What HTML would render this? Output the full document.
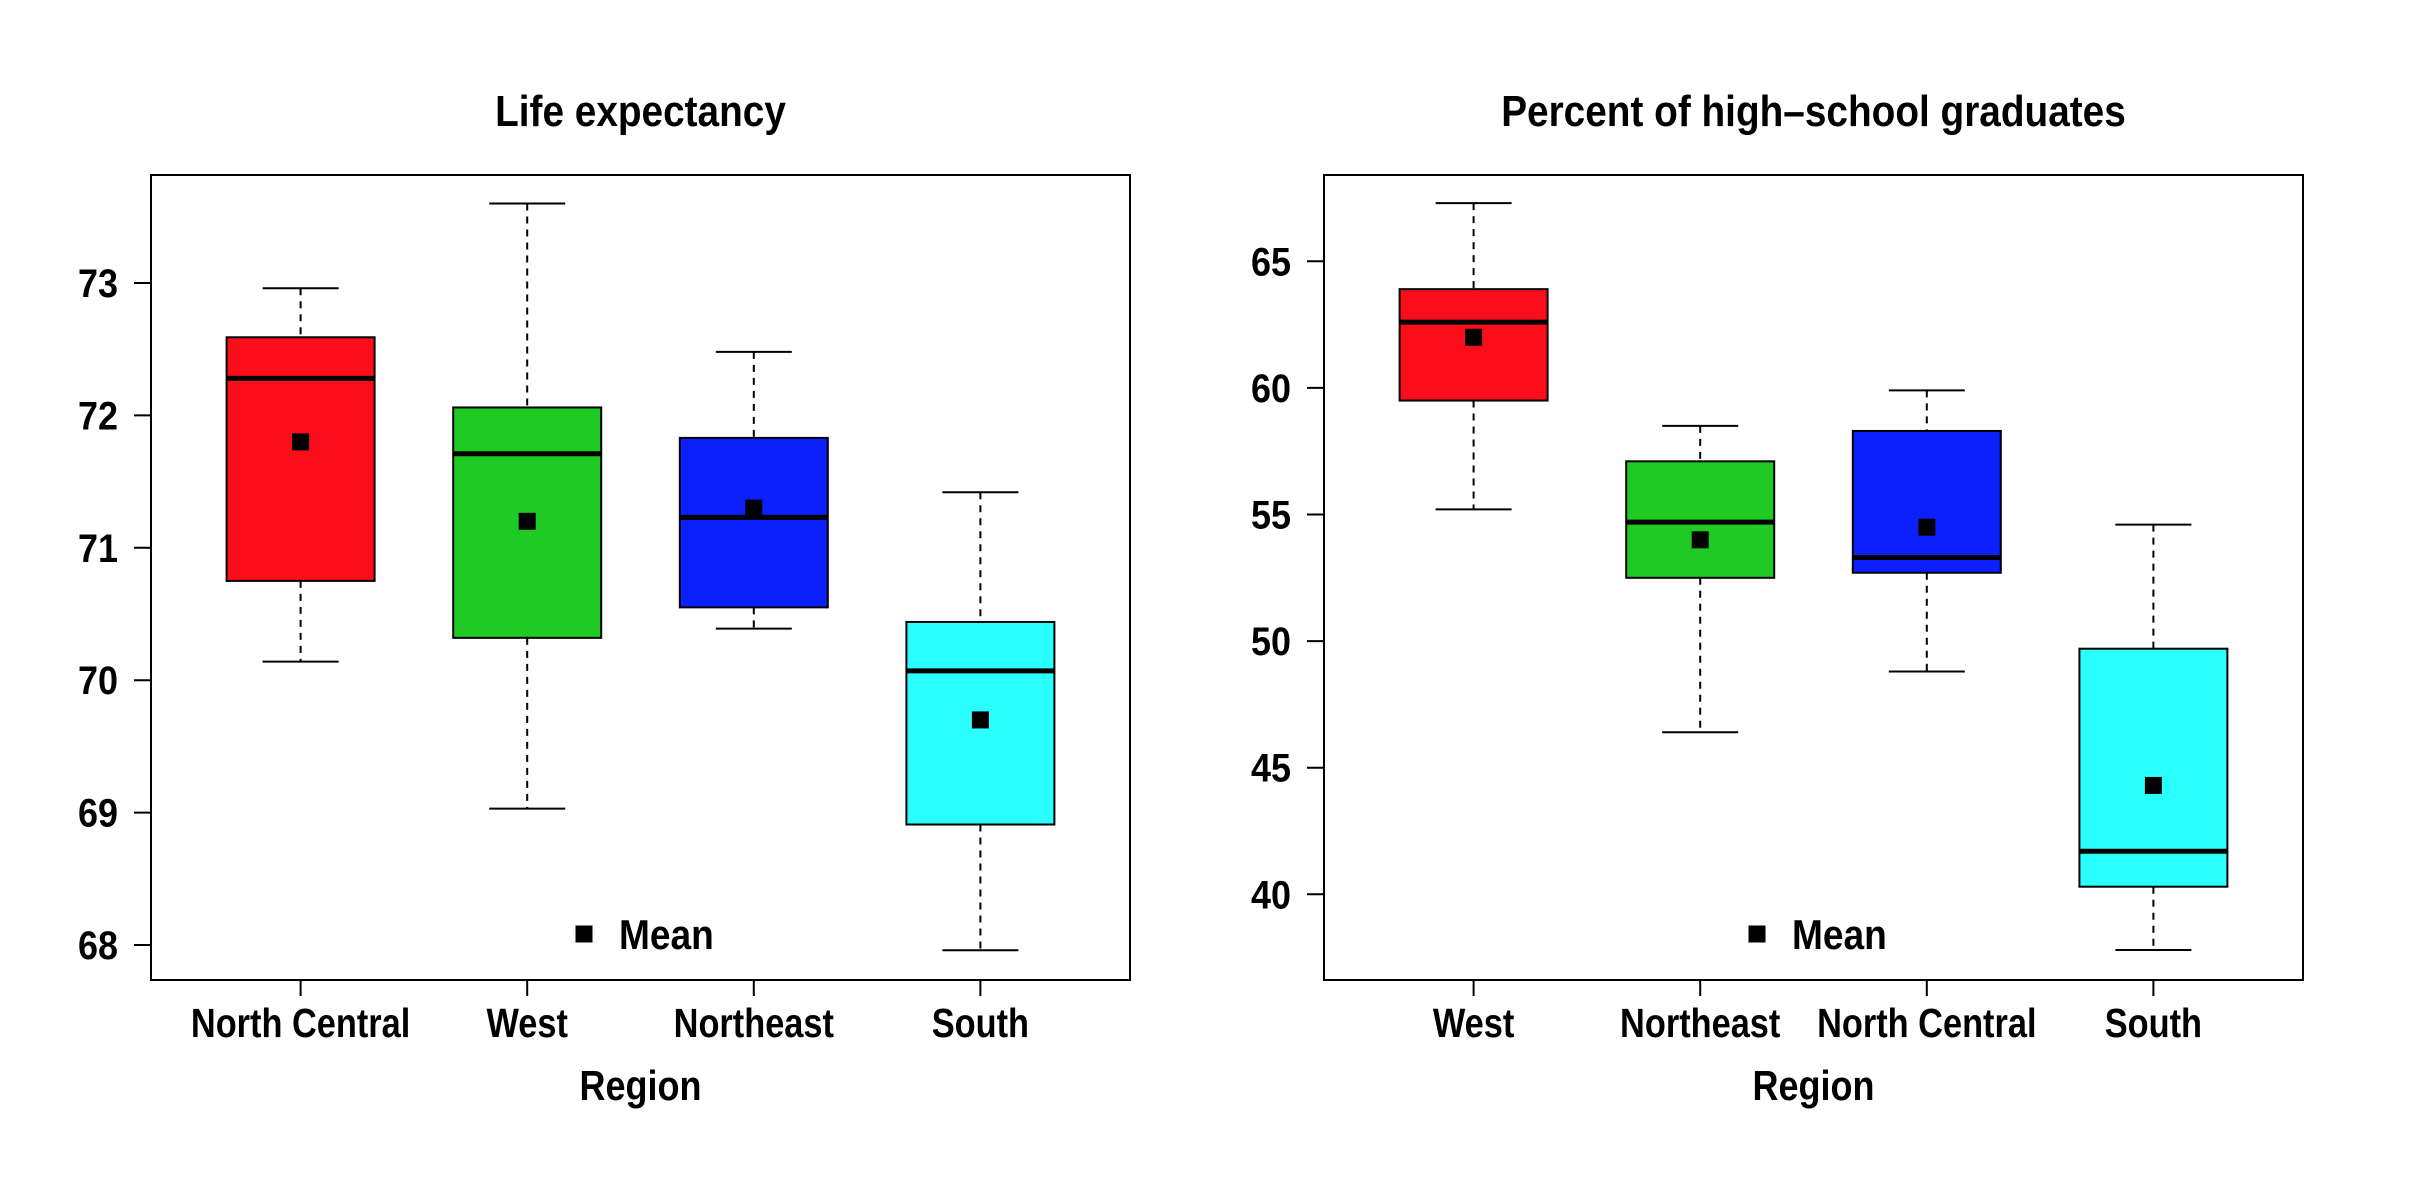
<!DOCTYPE html>
<html><head><meta charset="utf-8"><style>
html,body{margin:0;padding:0;background:#fff;}
svg{display:block;font-family:"Liberation Sans",Arial,sans-serif;font-weight:bold;}
</style></head><body>
<svg id="chart" width="2422" height="1200" viewBox="0 0 2422 1200" xmlns="http://www.w3.org/2000/svg"></svg>
<script>
// Left panel data
const leftCategories = ["North Central","West","Northeast","South"];
const leftWhiskerHigh = [72.96,73.60,72.48,71.42];
const leftQ3 = [72.59,72.06,71.83,70.44];
const leftMedian = [72.28,71.71,71.23,70.07];
const leftMean = [71.80,71.20,71.30,69.70];
const leftQ1 = [70.75,70.32,70.55,68.91];
const leftWhiskerLow = [70.14,69.03,70.39,67.96];
const leftTicks = [68,69,70,71,72,73];
// Right panel data
const rightCategories = ["West","Northeast","North Central","South"];
const rightWhiskerHigh = [67.3,58.5,59.9,54.6];
const rightQ3 = [63.9,57.1,58.3,49.7];
const rightMedian = [62.6,54.7,53.3,41.7];
const rightMean = [62.0,54.0,54.5,44.3];
const rightQ1 = [59.5,52.5,52.7,40.3];
const rightWhiskerLow = [55.2,46.4,48.8,37.8];
const rightTicks = [40,45,50,55,60,65];
const colors = ["#fc0d1b","#1fca23","#0c20fd","#2bfffe"];

const NS="http://www.w3.org/2000/svg";
const svg=document.getElementById('chart');
function mk(tag,attrs,parent){const e=document.createElementNS(NS,tag);for(const k in attrs)e.setAttribute(k,attrs[k]);(parent||svg).appendChild(e);return e;}
function tallText(el,base,big,wf){
  el.setAttribute('font-size',base);
  const w=el.getComputedTextLength();
  el.setAttribute('font-size',big);
  el.setAttribute('textLength',(w*wf).toFixed(1));
  el.setAttribute('lengthAdjust','spacingAndGlyphs');
}

function panel(opt){
  const g=mk('g',{});
  
  
  const y=v=>opt.y0+(opt.v0-v)*opt.pxPerUnit;
  const x=i=>opt.x0+i*opt.step;
  const title=mk('text',{x:(opt.left+opt.right)/2,y:126,'text-anchor':'middle'},g);
  title.textContent=opt.title;
  
  
  tallText(title,38,44,1.02);
  const frame=mk('rect',{x:opt.left,y:opt.top,width:opt.right-opt.left,height:opt.bottom-opt.top,fill:'none',stroke:'#000','stroke-width':2},g);
  
  
  opt.ticks.forEach(t=>{
    const ty=y(t);
    const tl=mk('line',{x1:opt.left-17,x2:opt.left,y1:ty,y2:ty,stroke:'#000','stroke-width':2},g);
    
    
    const lab=mk('text',{x:opt.left-33,y:ty+14,'text-anchor':'end'},g);
    lab.textContent=t;
    
    
    tallText(lab,36,40,1.0);
  });
  opt.cats.forEach((c,i)=>{
    const cx=x(i);
    const tk=mk('line',{x1:cx,x2:cx,y1:opt.bottom,y2:opt.bottom+16,stroke:'#000','stroke-width':2},g);
    
    
    const lab=mk('text',{x:cx,y:1037,'text-anchor':'middle'},g);
    lab.textContent=c;
    
    
    tallText(lab,34,41,1.01);
    const bw=74, cw=38;
    const wh=mk('line',{x1:cx,x2:cx,y1:y(opt.wh[i]),y2:y(opt.q3[i]),stroke:'#000','stroke-width':2,'stroke-dasharray':'7,6'},g);
    
    
    const wl=mk('line',{x1:cx,x2:cx,y1:y(opt.q1[i]),y2:y(opt.wl[i]),stroke:'#000','stroke-width':2,'stroke-dasharray':'7,6'},g);
    
    
    const ch=mk('line',{x1:cx-cw,x2:cx+cw,y1:y(opt.wh[i]),y2:y(opt.wh[i]),stroke:'#000','stroke-width':2},g);
    
    
    const cl=mk('line',{x1:cx-cw,x2:cx+cw,y1:y(opt.wl[i]),y2:y(opt.wl[i]),stroke:'#000','stroke-width':2},g);
    
    
    const b=mk('rect',{x:cx-bw,y:y(opt.q3[i]),width:2*bw,height:y(opt.q1[i])-y(opt.q3[i]),fill:colors[i],stroke:'#000','stroke-width':2},g);
    
    
    const md=mk('line',{x1:cx-bw,x2:cx+bw,y1:y(opt.med[i]),y2:y(opt.med[i]),stroke:'#000','stroke-width':5},g);
    
    
    const mn=mk('rect',{x:cx-8.5,y:y(opt.mean[i])-8.5,width:17,height:17,fill:'#000'},g);
    
    
  });
  const xt=mk('text',{x:(opt.left+opt.right)/2,y:1100,'text-anchor':'middle'},g);
  xt.textContent='Region';
  
  
  tallText(xt,36,42,1.0);
  const ls=mk('rect',{x:opt.legX-8.5,y:934-8.5,width:17,height:17,fill:'#000'},g);
  
  
  const lt=mk('text',{x:opt.legX+35,y:949},g);
  lt.textContent='Mean';
  
  
  tallText(lt,36,42,1.03);
}

panel({name:'life-expectancy-panel',title:'Life expectancy',left:151,right:1130,top:175,bottom:980,
  y0:283,v0:73,pxPerUnit:132.4,x0:300.6,step:226.6,cats:leftCategories,ticks:leftTicks,
  wh:leftWhiskerHigh,q3:leftQ3,med:leftMedian,mean:leftMean,q1:leftQ1,wl:leftWhiskerLow,legX:584});
panel({name:'hs-graduates-panel',title:'Percent of high\u2013school graduates',left:1324,right:2303,top:175,bottom:980,
  y0:261.3,v0:65,pxPerUnit:25.32,x0:1473.6,step:226.6,cats:rightCategories,ticks:rightTicks,
  wh:rightWhiskerHigh,q3:rightQ3,med:rightMedian,mean:rightMean,q1:rightQ1,wl:rightWhiskerLow,legX:1757});
</script>
</body></html>
